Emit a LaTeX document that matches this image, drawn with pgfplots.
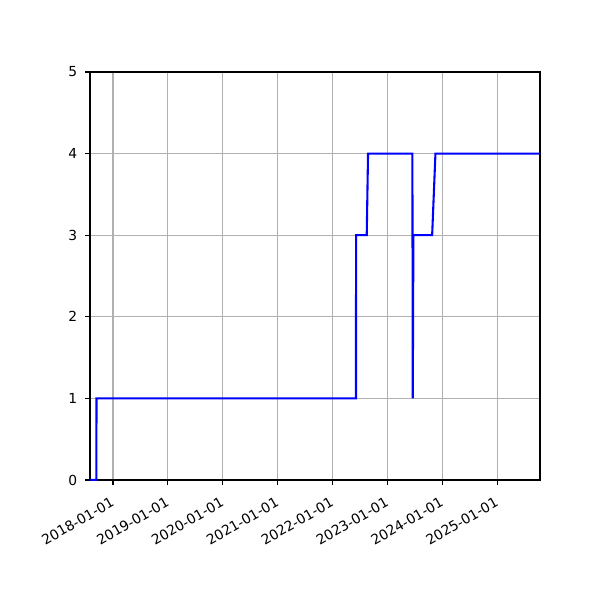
\documentclass[border=0pt]{standalone}
\usepackage{fontspec}
\setmainfont{DejaVu Sans}
\usepackage{pgfplots}
\pgfplotsset{compat=1.18}
\definecolor{gridgray}{HTML}{B0B0B0}
\begin{document}
\begin{tikzpicture}
\begin{axis}[
    at={(0bp,0bp)}, anchor=south west,
    scale only axis,
    width=324bp, height=293.76bp,
    xmin=2017.580, xmax=2025.779,
    ymin=0, ymax=5,
    xtick={2018,2019,2020,2021,2022,2023,2024,2025},
    xticklabels={2018-01-01,2019-01-01,2020-01-01,2021-01-01,2022-01-01,2023-01-01,2024-01-01,2025-01-01},
    ytick={0,1,2,3,4,5},
    xtick pos=bottom, ytick pos=left,
    tick align=outside,
    major tick length=3.5bp,
    tick style={black, line width=0.8bp},
    axis line style={line width=0.8bp},
    grid=major,
    major grid style={gridgray, line width=0.8bp},
    tick label style={font=\fontsize{10}{12}\selectfont},
    /pgf/number format/assume math mode=true,
    xticklabel style={inner sep=0pt, xshift=-2.2bp, yshift=-8.2bp, rotate=30, anchor=north east},
    yticklabel style={inner sep=0pt, xshift=-5.6bp, anchor=east},
]
\addplot[sharp plot, color=blue, line width=1.5bp] coordinates {
    (2017.580,0) (2017.697,0) (2017.698,1) (2022.426,1) (2022.428,3)
    (2022.622,3) (2022.646,4) (2023.454,4) (2023.461,1) (2023.472,3)
    (2023.814,3) (2023.874,4) (2025.779,4)
};
\end{axis}
\pgfresetboundingbox
\path (-64.8bp,-86.4bp) rectangle (367.2bp,345.6bp);
\end{tikzpicture}
\end{document}
